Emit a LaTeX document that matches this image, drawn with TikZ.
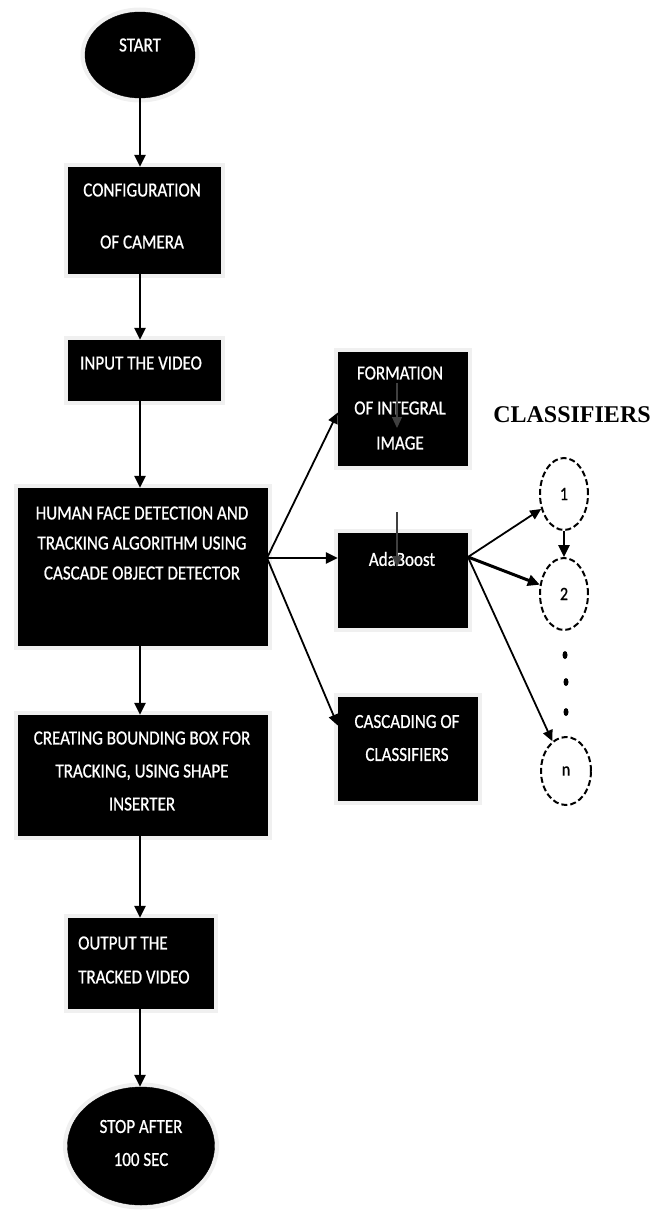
\documentclass[tikz,border=0pt]{standalone}
\usepackage{fontspec}
\setmainfont{Carlito}
\newfontfamily\cond[FakeStretch=0.85,FakeBold=0.8]{Carlito}
\newfontfamily\serifb{Liberation Serif}
\usetikzlibrary{arrows.meta,shapes.geometric}
\begin{document}
\begin{tikzpicture}[x=1pt,y=-1pt,
  blk/.style={rectangle, fill=black, draw=black, inner sep=0pt,
    preaction={draw=gray!12, line width=9pt}},
  term/.style={ellipse, fill=black, draw=black, inner sep=0pt,
    preaction={draw=gray!12, line width=9pt}},
  lbl/.style={text=white, align=center, inner sep=0pt, font=\cond\fontsize{20}{20}\selectfont},
  cls/.style={ellipse, draw=black, line width=2pt, dash pattern=on 6pt off 3pt,
    inner sep=0pt, font=\cond\fontsize{19}{20}\selectfont},
  dotn/.style={ellipse, fill=black, inner sep=0pt, minimum width=5pt, minimum height=8pt},
  arr/.style={line width=2.6pt, -{Triangle[length=12pt,width=11pt]}},
  thin/.style={line width=1.8pt, -{Triangle[length=11pt,width=10pt]}},
  stray/.style={line width=1.2pt, draw=black!75, -{Triangle[length=11pt,width=10pt]}}
]
\useasboundingbox (0,0) rectangle (665,1210);

% left column
\node[term, minimum width=110pt, minimum height=86pt] (start) at (140,55) {};
\node[lbl] (startT) at (140,45) {START};

\node[blk, minimum width=152pt, minimum height=106pt] (cfg) at (144,220) {};
\node[lbl, font=\cond\fontsize{20}{52}\selectfont] (cfgT) at (142,216) {CONFIGURATION\\OF CAMERA};

\node[blk, minimum width=152pt, minimum height=60pt] (inp) at (144,370) {};
\node[lbl] (inpT) at (141,363) {INPUT THE VIDEO};

\node[blk, minimum width=249pt, minimum height=157pt] (hfd) at (142.5,566.5) {};
\node[lbl, font=\cond\fontsize{20}{30}\selectfont] (hfdT) at (142,543)
  {HUMAN FACE DETECTION AND\\TRACKING ALGORITHM USING\\CASCADE OBJECT DETECTOR};

\node[blk, minimum width=249pt, minimum height=120pt] (bb) at (142.5,775) {};
\node[lbl, font=\cond\fontsize{20}{33}\selectfont] (bbT) at (142,771)
  {CREATING BOUNDING BOX FOR\\TRACKING, USING SHAPE\\INSERTER};

\node[blk, minimum width=145pt, minimum height=90pt] (out) at (140.5,963) {};
\node[lbl, anchor=west, align=left, font=\cond\fontsize{20}{34}\selectfont] (outT) at (78,960)
  {OUTPUT THE\\TRACKED VIDEO};

\node[term, minimum width=147pt, minimum height=118pt] (stop) at (141,1146) {};
\node[lbl, font=\cond\fontsize{20}{33}\selectfont] (stopT) at (141,1143) {STOP AFTER\\100 SEC};

% middle column
\node[blk, minimum width=129pt, minimum height=113pt] (form) at (402.5,408.5) {};
\node[lbl, font=\cond\fontsize{20}{35}\selectfont] (formT) at (400,408) {FORMATION\\OF INTEGRAL\\IMAGE};

\node[blk, minimum width=129pt, minimum height=94pt] (ada) at (402.5,580) {};
\node[lbl] (adaT) at (402,559) {AdaBoost};

\node[blk, minimum width=139pt, minimum height=103pt] (casc) at (407.5,748.5) {};
\node[lbl, font=\cond\fontsize{20}{33}\selectfont] (cascT) at (407,738) {CASCADING OF\\CLASSIFIERS};

% right column
\node[font=\serifb\bfseries\fontsize{24}{28}\selectfont, inner sep=0pt] (title) at (572,415) {CLASSIFIERS};
\node[cls, minimum width=48pt, minimum height=72pt] (c1) at (564,494) {1};
\node[cls, minimum width=48pt, minimum height=72pt] (c2) at (564,594) {2};
\node[cls, minimum width=50pt, minimum height=68pt] (cn) at (566,771) {n};
\node[dotn] (d1) at (565,655) {};
\node[dotn] (d2) at (566,682) {};
\node[dotn] (d3) at (566,712) {};

% main flow
\draw[arr] (start.south) -- (start.south |- cfg.north);
\draw[arr] (cfg.south -| start.south) -- (start.south |- inp.north);
\draw[arr] (inp.south -| start.south) -- (start.south |- hfd.north);
\draw[arr] (hfd.south -| start.south) -- (start.south |- bb.north);
\draw[arr] (bb.south -| start.south) -- (start.south |- out.north);
\draw[arr] (out.south -| start.south) -- (start.south |- stop.north);

% fan from detector
\coordinate (fan) at (267,558);
\draw[thin] (fan) -- ([yshift=-4pt]form.west);
\draw[arr] (fan) -- (fan -| ada.west);
\draw[thin] (fan) -- ([yshift=23pt]casc.west);

% fan from AdaBoost
\coordinate (afan) at (468,557);
\draw[thin] (afan) -- (c1);
\draw[arr, line width=3pt] (afan) -- (c2);
\draw[thin] (afan) -- (cn);
\draw[arr] (c1.south) -- (c2.north);

% stray arrows
\coordinate (s1a) at (397,383);
\coordinate (s1b) at (397,428);
\coordinate (s2a) at (397,512);
\coordinate (s2b) at (397,567);
\draw[stray] (s1a) -- (s1b);
\draw[stray] (s2a) -- (s2b);
\end{tikzpicture}
\end{document}
